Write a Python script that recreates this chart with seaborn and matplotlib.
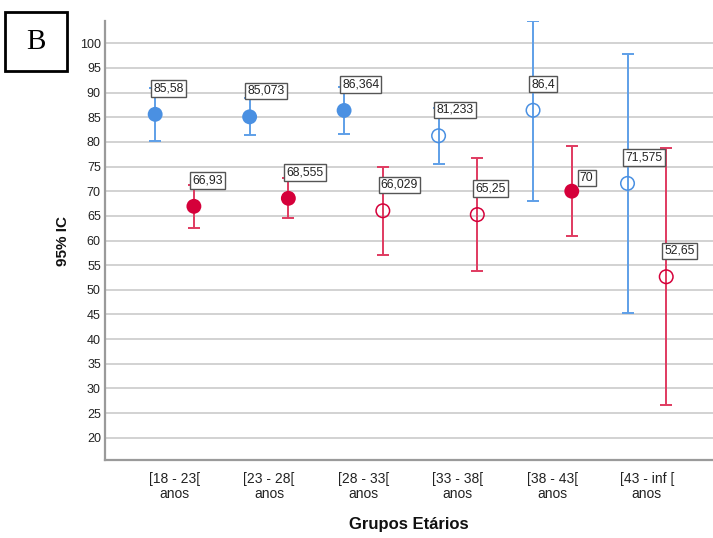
import numpy as np
import pandas as pd
import matplotlib
matplotlib.use("Agg")
import matplotlib.pyplot as plt
import seaborn as sns

# ---- data ----
groups = ["[18 - 23[\nanos", "[23 - 28[\nanos", "[28 - 33[\nanos",
          "[33 - 38[\nanos", "[38 - 43[\nanos", "[43 - inf [\nanos"]
blue_mean = [85.58, 85.073, 86.364, 81.233, 86.4, 71.575]
blue_lo = [80.2, 81.3, 81.6, 75.6, 68.0, 45.4]
blue_hi = [91.0, 88.8, 91.1, 86.9, 104.4, 97.8]
blue_filled = [True, True, True, False, False, False]
red_mean = [66.93, 68.555, 66.029, 65.25, 70.0, 52.65]
red_lo = [62.6, 64.5, 57.1, 53.8, 60.9, 26.6]
red_hi = [71.3, 72.6, 74.9, 76.7, 79.1, 78.7]
red_filled = [True, True, False, False, True, False]
yticks = list(range(20, 101, 5))

# ---- styling ----
marker_col = {"A": "#4A90E2", "B": "#D5003A"}
bar_col = {"A": "#5E9FE8", "B": "#E03A60"}
offset = {"A": -0.205, "B": 0.205}

rows = []
for s, means, los, his, fills in [("A", blue_mean, blue_lo, blue_hi, blue_filled),
                                  ("B", red_mean, red_lo, red_hi, red_filled)]:
    for i, (m, lo, hi, f) in enumerate(zip(means, los, his, fills)):
        rows.append(dict(series=s, idx=i, x=i + offset[s], mean=m, lo=lo, hi=hi, filled=f))
df = pd.DataFrame(rows)

sns.set_theme(style="white")
plt.rcParams["font.family"] = ["Liberation Sans", "DejaVu Sans"]

fig = plt.figure(figsize=(7.13, 5.38), dpi=100)
ax = fig.add_axes([105 / 713, 1 - 460 / 538, 608 / 713, 439 / 538])

# gridlines
ax.set_yticks(yticks)
ax.yaxis.grid(True, color="#CFCFCF", linewidth=1.3, zorder=0)
ax.xaxis.grid(False)
ax.set_axisbelow(True)

# error bars
for s in ["A", "B"]:
    d = df[df.series == s]
    ax.errorbar(d.x, d["mean"], yerr=[d["mean"] - d.lo, d.hi - d["mean"]],
                fmt="none", ecolor=bar_col[s], elinewidth=1.4, capsize=4.5,
                capthick=1.4, zorder=2)

# markers
pal = {k: v for k, v in marker_col.items()}
sns.scatterplot(data=df[df.filled], x="x", y="mean", hue="series", palette=pal,
                s=115, linewidth=0, legend=False, ax=ax, zorder=3)
for s in ["A", "B"]:
    d = df[(~df.filled) & (df.series == s)]
    ax.scatter(d.x, d["mean"], s=95, facecolors="none", edgecolors=marker_col[s],
               linewidths=1.1, zorder=3)

# value labels
for _, r in df.iterrows():
    txt = f"{r['mean']:g}".replace(".", ",")
    dx, dy = -2, 26
    if r.series == "B" and r["mean"] == 70.0:
        dx, dy = 8, 13
    ax.annotate(txt, xy=(r.x, r["mean"]), xytext=(dx, dy), textcoords="offset pixels",
                ha="left", va="center", fontsize=8.8, color="#222222",
                bbox=dict(boxstyle="square,pad=0.18", fc="white", ec="#555555", lw=1.0),
                zorder=5)

ax.set_xlim(-0.736, 5.70)
ax.set_ylim(15.5, 104.5)
ax.set_xticks(range(len(groups)))
ax.set_xticklabels(groups, fontsize=10, linespacing=1.0, color="#222222")
ax.tick_params(axis="y", labelsize=9, length=0, pad=3, labelcolor="#222222")
ax.tick_params(axis="x", length=0, pad=9)

for side in ["top", "right"]:
    ax.spines[side].set_visible(False)
for side in ["left", "bottom"]:
    ax.spines[side].set_color("#9A9A9A")
    ax.spines[side].set_linewidth(1.6)

ax.set_ylabel("95% IC", fontsize=11, fontweight="bold", color="#111111")
ax.yaxis.set_label_coords(-0.058, 0.5)
ax.set_xlabel("Grupos Etários", fontsize=12, fontweight="bold", color="#111111")
ax.xaxis.set_label_coords(0.5, -0.130)

# panel letter box
fig.patches.append(plt.Rectangle((5 / 713, 1 - 71 / 538), 62 / 713, 59 / 538,
                                 transform=fig.transFigure, fill=False,
                                 ec="black", lw=2.0))
fig.text(36 / 713, 1 - 42 / 538, "B", ha="center", va="center", fontsize=21,
         family=["Liberation Serif", "DejaVu Serif"], color="black")

fig.savefig("out.png", dpi=100)
